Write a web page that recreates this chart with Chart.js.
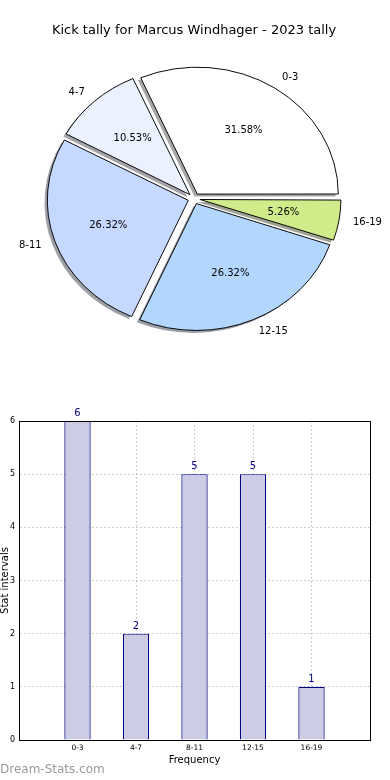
<!DOCTYPE html>
<html><head><meta charset="utf-8">
<script src="https://cdn.jsdelivr.net/npm/chart.js@4.4.0/dist/chart.umd.min.js"></script>
<style>
html,body{margin:0;padding:0;background:#fff;width:390px;height:780px;overflow:hidden}
#pieWrap{position:absolute;left:0;top:0;width:390px;height:390px}
#barWrap{position:absolute;left:0;top:390px;width:390px;height:390px}
</style></head><body>
<div id="pieWrap"><canvas id="pie" width="390" height="390"></canvas></div>
<div id="barWrap"><canvas id="bar" width="390" height="390"></canvas></div>
<script>
// ---- data ----
const titleText = 'Kick tally for Marcus Windhager - 2023 tally';
const categories = ['0-3', '4-7', '8-11', '12-15', '16-19'];
const counts = [6, 2, 5, 5, 1];
const sliceColors = ['#ffffff', '#ebf1ff', '#c5d8ff', '#b3d6ff', '#cfeb8a'];
const yTickValues = [0, 1, 2, 3, 4, 5, 6];
const xAxisTitle = 'Frequency';
const yAxisTitle = 'Stat intervals';
const watermark = 'Dream-Stats.com';

const FONT = "'DejaVu Sans', 'Liberation Sans', sans-serif";
const total = counts.reduce((a, b) => a + b, 0);

// matplotlib draws counter-clockwise from 3 o'clock; Chart.js clockwise -> reverse
const pieLabels = categories.slice().reverse();
const pieValues = counts.slice().reverse();
const pieColors = sliceColors.slice().reverse();

function shadowOf(hex) {
  const n = parseInt(hex.slice(1), 16);
  const r = (n >> 16) & 255, g = (n >> 8) & 255, b = n & 255;
  return `rgba(${Math.round(r * 0.3)},${Math.round(g * 0.3)},${Math.round(b * 0.3)},0.5)`;
}

const R = 141, T = 6, SY = 0.9;

const pieStyle = {
  id: 'pieStyle',
  afterDatasetUpdate(chart, args) {
    args.meta.data.forEach(a => {
      const c = a.endAngle - a.startAngle;
      const fix = 1 - Math.sin(Math.min(Math.PI, c));
      a.outerRadius = R - T * fix;
    });
  },
  beforeDatasetsDraw(chart) {
    const ctx = chart.ctx;
    const meta = chart.getDatasetMeta(0);
    const a0 = meta.data[0];
    // shadow pass (under all wedges)
    ctx.save();
    ctx.translate(-2.8, 2.5);
    ctx.translate(a0.x, a0.y); ctx.scale(1, SY); ctx.translate(-a0.x, -a0.y);
    meta.data.forEach((a, i) => {
      const orig = a.options;
      const sc = shadowOf(pieColors[i]);
      a.options = Object.assign({}, orig, { backgroundColor: sc, borderColor: 'rgba(0,0,0,0)', borderWidth: 0 });
      a.draw(ctx);
      a.options = orig;
    });
    ctx.restore();
    ctx.save();
    ctx.translate(a0.x, a0.y); ctx.scale(1, SY); ctx.translate(-a0.x, -a0.y);
  },
  afterDatasetsDraw(chart) {
    const ctx = chart.ctx;
    ctx.restore();
    const meta = chart.getDatasetMeta(0);
    ctx.save();
    ctx.fillStyle = '#000';
    ctx.font = '10px ' + FONT;
    ctx.textBaseline = 'middle';
    meta.data.forEach((a, i) => {
      const mid = (a.startAngle + a.endAngle) / 2;
      const c = Math.cos(mid), s = Math.sin(mid);
      const pt = d => [a.x + c * (T + d * R), a.y + s * (T + d * R) * SY];
      const [lx, ly] = pt(1.1);
      ctx.textAlign = c > 0 ? 'left' : 'right';
      ctx.fillText(pieLabels[i], lx, ly);
      const [px, py] = pt(0.6);
      ctx.textAlign = 'center';
      ctx.fillText((pieValues[i] / total * 100).toFixed(2) + '%', px, py);
    });
    ctx.restore();
  }
};

new Chart(document.getElementById('pie'), {
  type: 'pie',
  data: {
    labels: pieLabels,
    datasets: [{
      data: pieValues,
      backgroundColor: pieColors,
      borderColor: '#000',
      borderWidth: 1,
      offset: T * 4,
      hoverOffset: T * 4
    }]
  },
  options: {
    responsive: false, animation: false, events: [],
    rotation: 90,
    radius: R,
    layout: { padding: { left: 0, right: 2, top: 0, bottom: 31.4 } },
    plugins: {
      legend: { display: false },
      tooltip: { enabled: false },
      title: {
        display: true, text: titleText, color: '#000',
        font: { family: FONT, size: 13, weight: 'normal' },
        padding: { top: 23, bottom: 0 }
      }
    }
  },
  plugins: [pieStyle]
});

// ---- bar chart ----
const barExtras = {
  id: 'barExtras',
  afterDatasetsDraw(chart) {
    const ctx = chart.ctx;
    const meta = chart.getDatasetMeta(0);
    const ys = chart.scales.y;
    ctx.save();
    ctx.fillStyle = '#000080';
    ctx.font = '10px ' + FONT;
    ctx.textAlign = 'center';
    ctx.textBaseline = 'alphabetic';
    meta.data.forEach((el, i) => {
      ctx.fillText(String(counts[i]), el.x, ys.getPixelForValue(counts[i]) - 5);
    });
    ctx.restore();
  },
  afterDraw(chart) {
    const ctx = chart.ctx;
    const { left, right, top, bottom } = chart.chartArea;
    ctx.save();
    ctx.strokeStyle = '#000';
    ctx.lineWidth = 1;
    ctx.strokeRect(Math.round(left) + 0.5, Math.round(top) + 0.5, Math.round(right - left), Math.round(bottom - top));
    ctx.fillStyle = '#999';
    ctx.font = '12px ' + FONT;
    ctx.textAlign = 'left';
    ctx.textBaseline = 'middle';
    ctx.fillText(watermark, 0, 380);
    ctx.restore();
  }
};

new Chart(document.getElementById('bar'), {
  type: 'bar',
  data: {
    datasets: [{
      data: counts.map((v, i) => ({ x: i, y: v })),
      backgroundColor: '#cccce5',
      borderColor: '#000080',
      borderWidth: 1.2,
      categoryPercentage: 0.9,
      barPercentage: 0.5
    }]
  },
  options: {
    responsive: false, animation: false, events: [],
    layout: { padding: { top: 31, right: 20, left: 0, bottom: 0 } },
    plugins: { legend: { display: false }, tooltip: { enabled: false } },
    scales: {
      x: {
        type: 'linear', min: -1, max: 5, offset: false, z: 1,
        afterFit(s) { s.height = 40; },
        grid: { offset: false, color: '#bdbdbd', lineWidth: 1, drawTicks: false },
        border: { display: true, color: '#000', dash: [1.5, 2.5] },
        ticks: {
          stepSize: 1, autoSkip: false, maxRotation: 0, padding: 4, color: '#000',
          font: { family: FONT, size: 7.5 },
          callback: v => (categories[v] !== undefined ? categories[v] : '')
        },
        title: { display: true, text: xAxisTitle, color: '#000', font: { family: FONT, size: 10 }, padding: { top: 0, bottom: 14 } }
      },
      y: {
        min: 0, max: 6, z: 1,
        afterFit(s) { s.width = 19; },
        afterBuildTicks(s) { s.ticks = yTickValues.map(v => ({ value: v })); },
        grid: { color: '#bdbdbd', lineWidth: 1, drawTicks: false },
        border: { display: true, color: '#000', dash: [1.5, 2.5] },
        ticks: { padding: 4, color: '#000', font: { family: FONT, size: 8 } },
        title: { display: true, text: yAxisTitle, color: '#000', font: { family: FONT, size: 10, lineHeight: 1 }, padding: 0 }
      }
    }
  },
  plugins: [barExtras]
});
</script>
</body></html>
